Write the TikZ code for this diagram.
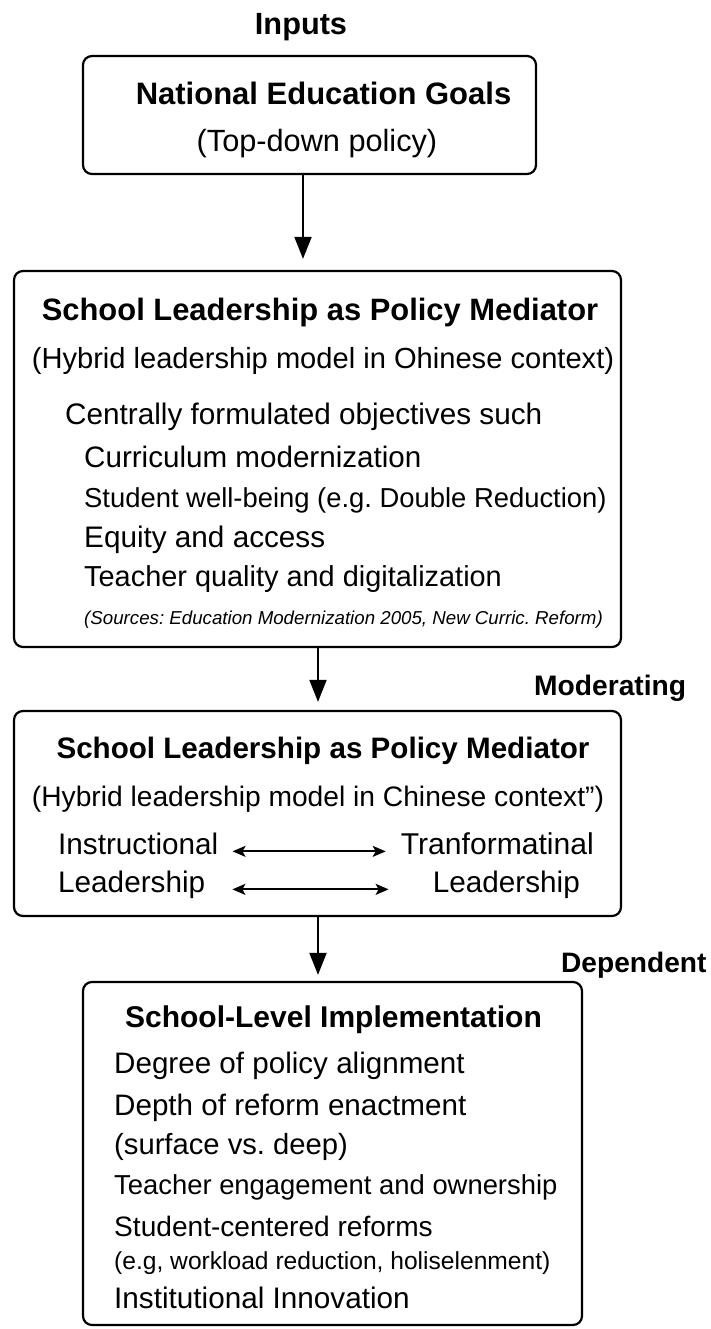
\documentclass[tikz,border=0pt]{standalone}
\usepackage{fontspec}
\setmainfont{Liberation Sans}
\usetikzlibrary{arrows.meta}
\newcommand{\fsz}[1]{\fontsize{#1}{#1}\selectfont}
\frenchspacing
\begin{document}
\begin{tikzpicture}[x=1pt,y=-1pt,
  box/.style={draw, line width=2.2pt, rounded corners=9pt, inner sep=0pt},
  lft/.style={inner sep=0pt, anchor=base west},
  mid/.style={inner sep=0pt, anchor=base},
  rgt/.style={inner sep=0pt, anchor=base east},
  flow/.style={line width=2pt, -{Triangle[length=22pt,width=17pt]}},
  twoway/.style={line width=1.8pt, {Stealth[length=13pt,width=11pt,inset=3pt]}-{Stealth[length=13pt,width=11pt,inset=3pt]}}]
\useasboundingbox (0,0) rectangle (710,1329);

% ---- frames ----
\node[box, minimum width=453pt, minimum height=118pt] (b1) at (309.5,115) {};
\node[box, minimum width=607pt, minimum height=376pt] (b2) at (317.5,459) {};
\node[box, minimum width=607pt, minimum height=205pt] (b3) at (317.5,813.5) {};
\node[box, minimum width=499pt, minimum height=343pt] (b4) at (332.5,1153.5) {};

% ---- stage labels ----
\node[mid] (inputs) at (301,35) {\fsz{30.7}\bfseries Inputs};
\node[lft] (moder) at (534,695) {\fsz{28.2}\bfseries Moderating};
\node[lft] (depen) at (561,972) {\fsz{28.1}\bfseries Dependent};

% ---- national goals ----
\node[mid] (ng) at (323.5,105) {\fsz{31}\bfseries National Education Goals};
\node[mid] (td) at (317,152) {\fsz{30.7}(Top-down policy)};

% ---- policy mediator, objectives ----
\node[mid] (t2) at (320,320) {\fsz{30.9}\bfseries School Leadership as Policy Mediator};
\node[mid] (h2) at (323,368) {\fsz{29.1}(Hybrid leadership model in Ohinese context)};
\node[lft] (c2) at (65,424) {\fsz{29.7}Centrally formulated objectives such};
\node[lft] (o1) at (84,467) {\fsz{29.6}Curriculum modernization};
\node[lft] (o2) at (84,507) {\fsz{27.4}Student well-being (e.g. Double Reduction)};
\node[lft] (o3) at (84,547) {\fsz{29.7}Equity and access};
\node[lft] (o4) at (84,586) {\fsz{28.9}Teacher quality and digitalization};
\node[lft] (src) at (84,624) {\fsz{18.7}\itshape (Sources: Education Modernization 2005, New Curric. Reform)};

% ---- policy mediator, leadership styles ----
\node[mid] (t3) at (323,758) {\fsz{29.6}\bfseries School Leadership as Policy Mediator};
\node[mid] (h3) at (318,806) {\fsz{28.2}(Hybrid leadership model in Chinese context")};
\node[lft] (ins) at (58,854) {\fsz{29.7}Instructional};
\node[rgt] (tra) at (594,854) {\fsz{30.1}Tranformatinal};
\node[lft] (le1) at (58,892) {\fsz{29.7}Leadership};
\node[rgt] (le2) at (580,892) {\fsz{29.7}Leadership};
\draw[twoway, shorten <=14pt, shorten >=15pt] (ins.mid east) -- (tra.mid west);
\draw[twoway, shorten <=27pt, shorten >=44pt] (le1.mid east) -- (le2.mid west);

% ---- implementation ----
\node[mid] (t4) at (333.5,1027) {\fsz{30}\bfseries School-Level Implementation};
\node[lft] (d1) at (114,1073) {\fsz{29.6}Degree of policy alignment};
\node[lft] (d2) at (114,1115) {\fsz{29.6}Depth of reform enactment};
\node[lft] (d3) at (114,1154) {\fsz{29.2}(surface vs. deep)};
\node[lft] (d4) at (114,1194) {\fsz{27.4}Teacher engagement and ownership};
\node[lft] (d5) at (114,1236) {\fsz{28.1}Student-centered reforms};
\node[lft] (d6) at (114,1269) {\fsz{24.6}(e.g, workload reduction, holiselenment)};
\node[lft] (d7) at (114,1308) {\fsz{29.7}Institutional Innovation};

% ---- flow between stages ----
\coordinate (xa) at (303,0);
\coordinate (xb) at (318,0);
\draw[flow, shorten >=11pt] (b1.south -| xa) -- (b2.north -| xa);
\draw[flow, shorten >=8pt] (b2.south -| xb) -- (b3.north -| xb);
\draw[flow, shorten >=6pt] (b3.south -| xb) -- (b4.north -| xb);
\end{tikzpicture}
\end{document}
